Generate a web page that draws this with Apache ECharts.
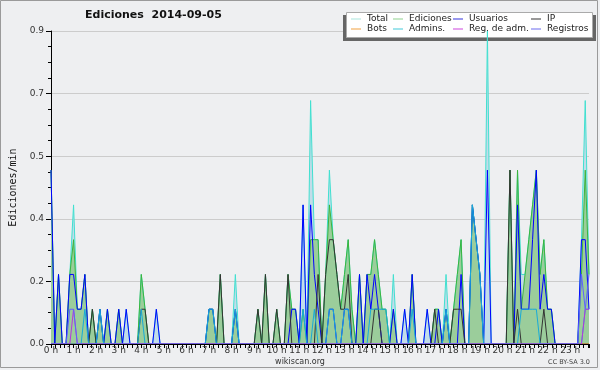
<!DOCTYPE html>
<html>
<head>
<meta charset="utf-8">
<script src="https://cdn.jsdelivr.net/npm/echarts@6/dist/echarts.min.js"></script>
<style>
html,body{margin:0;padding:0;background:#eeeff1;}
#c{width:600px;height:370px;}
</style>
</head>
<body>
<div id="c"></div>
<script>
// 10-minute slots, 6 per hour, 144 per day
const hourLabels = ['0','1','2','3','4','5','6','7','8','9','10','11','12','13','14','15','16','17','18','19','20','21','22','23'];
const seriesNames = ['Total','Ediciones','Usuarios','IP','Bots','Admins.','Reg. de adm.','Registros'];

const total = [
 .5,0,.2,0,0,.2,  .4,.1,.1,.2,0,.1,  0,.1,0,.1,0,0,  .1,0,.1,0,0,0,
 .2,.1,0,0,.1,0,  0,0,0,0,0,0,  0,0,0,0,0,0,  .1,.1,0,.2,0,0,
 0,.2,0,0,0,0,  0,.1,0,.2,0,0,  .1,0,0,.2,.1,.1,  0,.4,0,.7,.3,.3,
 0,.2,.5,.3,.2,.1,  .2,.3,.1,0,.2,0,  .2,.2,.3,.2,.1,.1,  0,.2,0,0,.1,0,
 .2,0,0,0,.1,0,  .1,.1,0,.2,0,.1,  .2,.3,0,0,.4,.3,  .2,0,.9,0,0,0,
 0,0,.5,0,.5,.2,  .2,.3,.4,.5,.2,.3,  .1,.1,0,0,0,0,  0,0,0,.3,.7,.2
];
const ediciones = [
 .5,0,.2,0,0,.2,  .3,.1,.1,.2,0,.1,  0,.1,0,.1,0,0,  .1,0,0,0,0,0,
 .2,.1,0,0,0,0,  0,0,0,0,0,0,  0,0,0,0,0,0,  .1,.1,0,.2,0,0,
 0,.1,0,0,0,0,  0,.1,0,.2,0,0,  .1,0,0,.2,.1,.1,  0,.1,0,.3,.3,.3,
 0,.2,.4,.3,.2,.1,  .2,.3,.1,0,.2,0,  .2,.2,.3,.2,.1,.1,  0,.1,0,0,0,0,
 .2,0,0,0,0,0,  .1,.1,0,.1,0,.1,  .2,.3,0,0,.4,.3,  .2,0,0,0,0,0,
 0,0,.5,0,.5,.1,  .2,.3,.4,.5,.2,.3,  .1,.1,0,0,0,0,  0,0,0,.2,.5,.2
];
const usuarios = [
 .5,0,.2,0,0,.2,  .2,.1,.1,.2,0,0,  0,.1,0,.1,0,0,  .1,0,.1,0,0,0,
 0,0,0,0,.1,0,  0,0,0,0,0,0,  0,0,0,0,0,0,  .1,.1,0,0,0,0,
 0,.1,0,0,0,0,  0,0,0,0,0,0,  0,0,0,0,.1,.1,  0,.4,0,.4,.2,.1,
 0,0,.1,.1,0,0,  .1,.1,0,0,.2,0,  .2,.1,.2,.1,0,0,  0,.1,0,0,.1,0,
 .2,0,0,0,.1,0,  0,.1,0,.1,0,0,  0,.2,0,0,.4,.3,  .2,0,.5,0,0,0,
 0,0,0,0,.4,.1,  .1,.1,.3,.5,.1,.2,  .1,.1,0,0,0,0,  0,0,0,.3,.3,.1
];
const ip = [
 0,0,0,0,0,0,  0,0,0,0,0,.1,  0,0,0,0,0,0,  0,0,0,0,0,0,
 .1,.1,0,0,0,0,  0,0,0,0,0,0,  0,0,0,0,0,0,  0,0,0,.2,0,0,
 0,0,0,0,0,0,  0,.1,0,.2,0,0,  .1,0,0,.2,0,0,  0,0,0,0,0,.2,
 0,.2,.3,.3,.2,.1,  .1,.2,0,0,0,0,  0,0,.1,.1,0,0,  0,0,0,0,0,0,
 0,0,0,0,0,0,  .1,0,0,0,0,.1,  .1,.1,0,0,0,0,  0,0,0,0,0,0,
 0,0,.5,0,.1,0,  0,0,0,0,0,.1,  0,0,0,0,0,0,  0,0,0,0,0,0
];
const bots = [
 0,0,0,0,0,0,  0,0,0,0,0,0,  0,0,0,0,0,0,  0,0,0,0,0,0,
 0,0,0,0,0,0,  0,0,0,0,0,0,  0,0,0,0,0,0,  0,0,0,0,0,0,
 0,0,0,0,0,0,  0,0,0,0,0,0,  0,0,0,0,0,0,  0,0,0,0,0,0,
 0,0,0,0,0,0,  0,0,0,0,0,0,  0,0,0,0,0,0,  0,0,0,0,0,0,
 0,0,0,0,0,0,  0,0,0,0,0,0,  0,0,0,0,0,0,  0,0,0,0,0,0,
 0,0,0,0,0,0,  0,0,0,0,0,0,  0,0,0,0,0,0,  0,0,0,0,0,0
];
const admins = [
 0,0,0,0,0,0,  0,0,0,.1,0,0,  0,.1,0,0,0,0,  0,0,0,0,0,0,
 .1,0,0,0,0,0,  0,0,0,0,0,0,  0,0,0,0,0,0,  .1,.1,0,0,0,0,
 0,.1,0,0,0,0,  0,0,0,0,0,0,  0,0,0,0,0,0,  0,.1,0,0,.1,0,
 0,0,.1,.1,0,0,  .1,.1,0,0,0,0,  0,.1,.1,.1,.1,.1,  0,0,0,0,0,0,
 .1,0,0,0,0,0,  0,0,0,.1,0,0,  0,0,0,0,.4,.3,  .2,0,0,0,0,0,
 0,0,0,0,0,.1,  .1,.1,.1,.1,0,0,  0,0,0,0,0,0,  0,0,0,0,.1,.1
];
const regAdm = [
 0,0,0,0,0,0,  .1,0,0,0,0,0,  0,0,0,0,0,0,  0,0,0,0,0,0,
 0,0,0,0,0,0,  0,0,0,0,0,0,  0,0,0,0,0,0,  0,0,0,0,0,0,
 0,0,0,0,0,0,  0,0,0,0,0,0,  0,0,0,0,0,0,  0,0,0,0,0,0,
 0,0,0,0,0,0,  0,0,0,0,0,0,  0,0,0,0,0,0,  0,0,0,0,0,0,
 0,0,0,0,0,0,  0,0,0,0,0,0,  0,0,0,0,0,0,  0,0,0,0,0,0,
 0,0,0,0,0,0,  0,0,0,0,0,0,  0,0,0,0,0,0,  0,0,0,0,.1,.1
];
const registros = [
 0,0,0,0,0,.1,  .1,0,0,0,0,0,  0,0,0,0,0,0,  0,0,0,0,0,0,
 0,0,0,0,0,0,  0,0,0,0,0,0,  0,0,0,0,0,0,  0,0,0,0,0,0,
 0,0,0,0,0,0,  0,0,0,0,0,0,  0,0,0,0,0,0,  0,0,0,0,0,0,
 0,0,0,0,0,0,  0,0,0,0,0,0,  0,0,0,0,0,0,  0,0,0,0,0,0,
 0,0,0,0,0,0,  0,0,0,0,0,0,  0,0,0,0,0,0,  0,0,0,0,0,0,
 0,0,0,0,0,0,  0,0,0,0,0,0,  0,0,0,0,0,0,  0,0,0,.2,.1,.2
];

const slotsPerHour = 6;
function pts(arr){ return arr.map((v,i)=>[i/slotsPerHour, v]); }

const lineColors = ['#40e0d0','#3cb43c','#0000ff','#333333','#ff9933','#18aad8','#bb33dd','#6060ff'];
const legendColors = ['#a8e4dc','#8fd08f','#3333dd','#333333','#f0a040','#40c8d8','#cc44dd','#6b6bee'];
const dataSets = [total, ediciones, usuarios, ip, bots, admins, regAdm, registros];

const series = seriesNames.map((name, k) => {
  const s = {
    name, type:'line', data: pts(dataSets[k]), symbol:'none', showSymbol:false,
    lineStyle:{width:1, color: lineColors[k]},
    itemStyle:{color: legendColors[k]},
    emphasis:{disabled:true}, z:2, silent:true
  };
  if (k === 0) s.areaStyle = {color:'#c2dce9', opacity:1};
  if (k === 1) s.areaStyle = {color:'#9bcd9b', opacity:1};
  return s;
});

const legendCommon = {
  orient:'vertical', top:14, padding:0, itemGap:0, itemWidth:10, itemHeight:1,
  icon:'rect', selectedMode:false,
  textStyle:{fontFamily:'DejaVu Sans', fontSize:9, lineHeight:10, color:'#222', padding:[0,0,0,1]},
  itemStyle:{borderWidth:0}
};
function leg(names, left){
  return Object.assign({}, legendCommon, {left, data: names.map(n => ({name:n, itemStyle:{color: legendColors[seriesNames.indexOf(n)], borderWidth:0}}))});
}

const chart = echarts.init(document.getElementById('c'), null, {renderer:'canvas', width:600, height:370});
chart.setOption({
  animation:false,
  backgroundColor:'#eeeff1',
  title:{text:'Ediciones  2014-09-05', left:85, top:10, padding:0,
    textStyle:{fontFamily:'DejaVu Sans', fontWeight:'bold', fontSize:11, color:'#111'}},
  grid:{left:47, right:11, top:31, bottom:26},
  xAxis:{type:'value', min:0, max:143/slotsPerHour, interval:1, z:5,
    axisLine:{lineStyle:{color:'#000', width:1}},
    axisTick:{show:true, length:4, lineStyle:{color:'#000'}},
    minorTick:{show:true, splitNumber:5, length:4, lineStyle:{color:'#000'}},
    axisLabel:{formatter:(v)=> Number.isInteger(v) ? hourLabels[v] + ' h' : '', showMaxLabel:false,
      fontFamily:'DejaVu Sans', fontSize:9, color:'#333', margin:2},
    splitLine:{show:false}},
  yAxis:{type:'value', min:0, max:0.9, interval:0.18,
    name:'Ediciones/min', nameLocation:'middle', nameGap:33, nameRotate:90,
    nameTextStyle:{fontFamily:'DejaVu Sans Mono', fontSize:10, color:'#111'},
    axisLine:{show:true, lineStyle:{color:'#000'}},
    axisTick:{show:true, length:5, lineStyle:{color:'#000'}},
    minorTick:{show:true, splitNumber:4, length:3, lineStyle:{color:'#000'}},
    axisLabel:{formatter:(v)=>v.toFixed(1), fontFamily:'DejaVu Sans', fontSize:9, color:'#333', margin:7},
    splitLine:{show:true, lineStyle:{color:'#cccccc', width:1}}},
  legend:[
    leg(['Total','Bots'], 351),
    leg(['Ediciones','Admins.'], 393),
    leg(['Usuarios','Reg. de adm.'], 453),
    leg(['IP','Registros'], 531)
  ],
  graphic:[
    {type:'rect', z:1, silent:true, shape:{x:0.5, y:0.5, width:597, height:367}, style:{fill:'none', stroke:'#9a9a9a', lineWidth:1}},
    {type:'rect', z:1, silent:true, shape:{x:343, y:15, width:253, height:26}, style:{fill:'#666666'}},
    {type:'rect', z:1, silent:true, shape:{x:346.5, y:12.5, width:246, height:25}, style:{fill:'#ffffff', stroke:'#aaaaaa', lineWidth:1}},
    {type:'text', z:1, silent:true, x:300, y:362, style:{text:'wikiscan.org', fontFamily:'DejaVu Sans', fontSize:8, fill:'#333', align:'center', verticalAlign:'middle'}},
    {type:'text', z:1, silent:true, x:590, y:362, style:{text:'CC BY-SA 3.0', fontFamily:'DejaVu Sans', fontSize:6.5, fill:'#444', align:'right', verticalAlign:'middle'}}
  ],
  series
});
</script>
</body>
</html>
